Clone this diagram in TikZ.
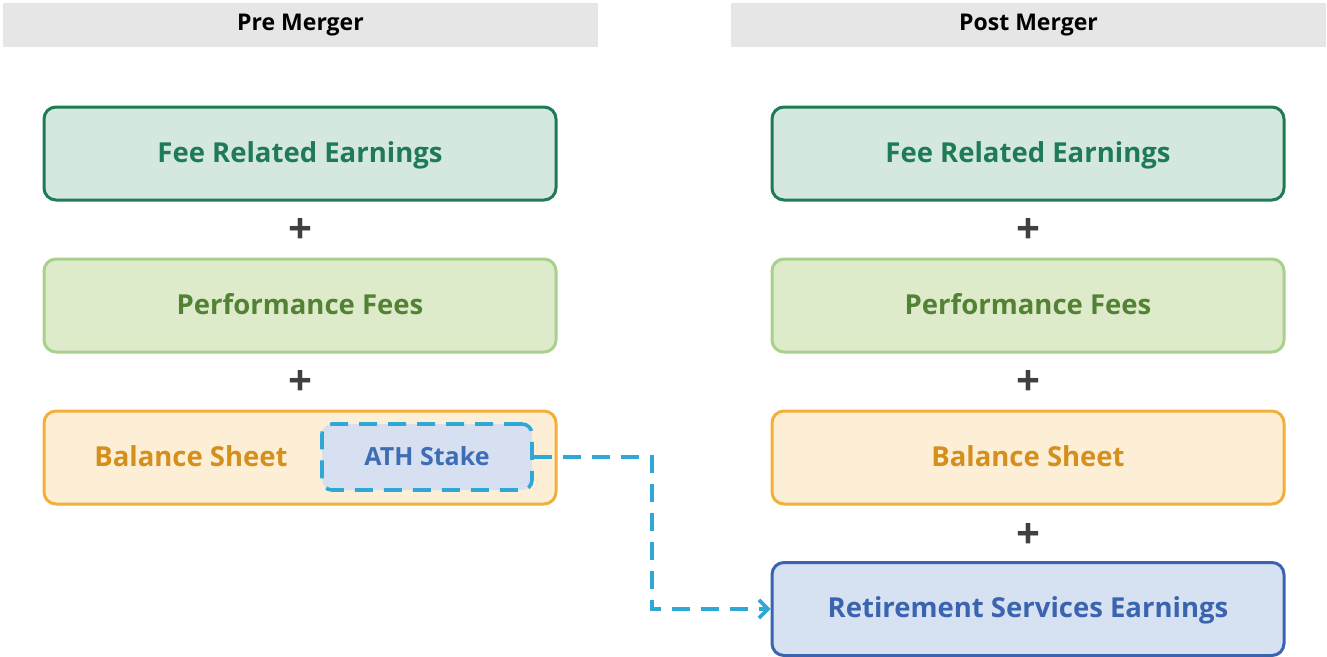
\documentclass[tikz,border=0pt]{standalone}
\usepackage{fontspec}
\setmainfont{Open Sans}
\usetikzlibrary{arrows.meta}
\definecolor{hdrgray}{HTML}{E6E6E6}
\definecolor{freline}{HTML}{1E7B55}
\definecolor{frefill}{HTML}{D5E8E0}
\definecolor{pfline}{HTML}{A9D18E}
\definecolor{pffill}{HTML}{DEEBCB}
\definecolor{pftext}{HTML}{548235}
\definecolor{bsline}{HTML}{F2AF3A}
\definecolor{bsfill}{HTML}{FDEFD6}
\definecolor{bstext}{HTML}{D48F1C}
\definecolor{athfill}{HTML}{D6E0F1}
\definecolor{athline}{HTML}{2FA8D5}
\definecolor{athtext}{HTML}{3D6DB5}
\definecolor{rsline}{HTML}{3A64B0}
\definecolor{rsfill}{HTML}{D6E1F2}
\definecolor{plusgray}{HTML}{404040}
\tikzset{
  header/.style={fill=hdrgray, draw=none, minimum width=595pt, minimum height=44pt,
    font=\fontsize{23}{27}\selectfont\bfseries, text=black},
  card/.style={rounded corners=12pt, line width=3pt, minimum width=512pt,
    minimum height=93pt, text height=20pt, text depth=3pt,
    font=\fontsize{27.5}{32}\selectfont\bfseries},
  fre/.style={card, draw=freline, fill=frefill, text=freline},
  perf/.style={card, draw=pfline, fill=pffill, text=pftext},
  bal/.style={card, draw=bsline, fill=bsfill, text=bstext},
  ret/.style={card, draw=rsline, fill=rsfill, text=rsline},
  ath/.style={rounded corners=10pt, line width=3.6pt, draw=athline, fill=athfill,
    dash pattern=on 18pt off 11pt, minimum width=210pt, minimum height=66pt,
    text height=18pt, text depth=2pt,
    text=athtext, font=\fontsize{25}{29}\selectfont\bfseries},
  plus/.style={font=\fontsize{42}{42}\selectfont\bfseries, text=plusgray, inner sep=0pt},
  link/.style={draw=athline, line width=3.6pt, dash pattern=on 18pt off 11pt,
    -{Straight Barb[length=9pt, width=18pt, line width=3.6pt]}}
}
\begin{document}
\begin{tikzpicture}[x=1pt, y=-1pt]
  \useasboundingbox (0,0) rectangle (1327,656);

  % column headers
  \node[header] (hpre)  at (300.5,25) {Pre Merger};
  \node[header] (hpost) at (1028.5,25) {Post Merger};

  % pre-merger stack
  \node[fre]  (fre1)  at (300,153.5) {Fee Related Earnings};
  \node[plus] (p1)    at (300,231) {+};
  \node[perf] (pf1)   at (300,305.5) {Performance Fees};
  \node[plus] (p2)    at (300,383) {+};
  \node[bal]  (bs1)   at (300,457.5) {};
  \node[font=\fontsize{27.5}{32}\selectfont\bfseries, text=bstext,
        text height=20pt, text depth=3pt] (bs1t) at (191,457.5) {Balance Sheet};
  \node[ath]  (ath)   at (427,457) {ATH Stake};

  % post-merger stack
  \node[fre]  (fre2)  at (1028,153.5) {Fee Related Earnings};
  \node[plus] (p3)    at (1028,231) {+};
  \node[perf] (pf2)   at (1028,305.5) {Performance Fees};
  \node[plus] (p4)    at (1028,383) {+};
  \node[bal]  (bs2)   at (1028,457.5) {Balance Sheet};
  \node[plus] (p5)    at (1028,536) {+};
  \node[ret]  (rs2)   at (1028,609) {Retirement Services Earnings};

  % ATH stake moves into retirement services
  \coordinate (bend) at (652,457);
  \draw[link] (ath.east) -- (bend) |- (rs2.west);
\end{tikzpicture}
\end{document}
